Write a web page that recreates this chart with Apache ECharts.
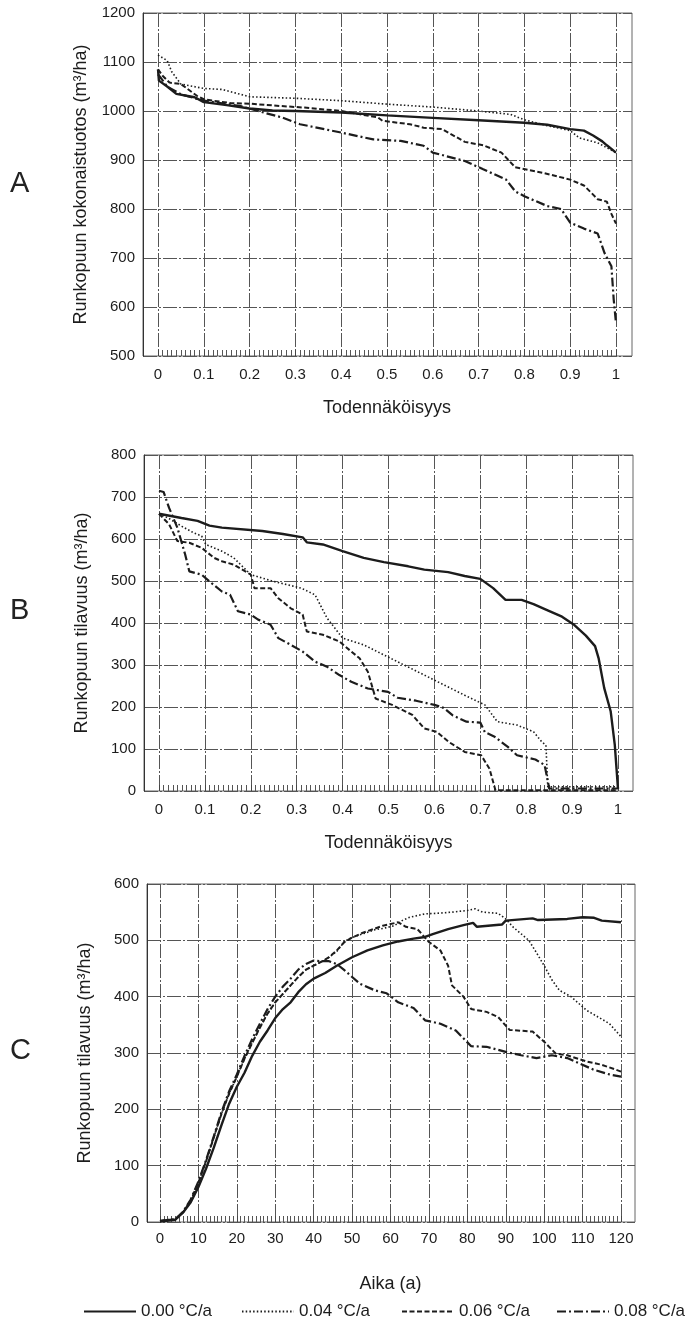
<!DOCTYPE html>
<html><head><meta charset="utf-8">
<script src="https://cdn.jsdelivr.net/npm/echarts@6/dist/echarts.min.js"></script>
<style>html,body{margin:0;padding:0;background:#fff}#c{width:694px;height:1324px}</style>
</head><body><div id="c"></div>
<script>
// ---------- DATA ----------
const seriesNames = ['0.00 °C/a', '0.04 °C/a', '0.06 °C/a', '0.08 °C/a'];
const panelLetters = ['A', 'B', 'C'];
const probTicks = [0, 0.1, 0.2, 0.3, 0.4, 0.5, 0.6, 0.7, 0.8, 0.9, 1];
const ageTicks = [0, 10, 20, 30, 40, 50, 60, 70, 80, 90, 100, 110, 120];

// Panel A: Runkopuun kokonaistuotos vs Todennäköisyys
const a000 = [[0,1085],[0.002,1062],[0.02,1050],[0.04,1035],[0.08,1028],[0.1,1018],[0.15,1012],[0.2,1005],[0.25,1001],[0.3,1000],[0.4,997],[0.5,991],[0.6,986],[0.7,981],[0.8,976],[0.85,972],[0.9,963],[0.93,960],[0.95,950],[0.97,938],[0.98,930],[1,915]];
const a004 = [[0,1114],[0.02,1103],[0.03,1080],[0.05,1055],[0.1,1046],[0.14,1044],[0.18,1034],[0.2,1029],[0.3,1026],[0.4,1021],[0.5,1014],[0.6,1008],[0.7,1000],[0.77,993],[0.8,982],[0.85,970],[0.9,960],[0.92,945],[0.96,935],[1,915]];
const a006 = [[0,1085],[0.01,1072],[0.025,1058],[0.05,1055],[0.085,1031],[0.1,1024],[0.12,1021],[0.16,1016],[0.2,1015],[0.27,1010],[0.32,1007],[0.4,1000],[0.48,987],[0.49,980],[0.55,973],[0.58,966],[0.62,963],[0.67,937],[0.71,930],[0.75,915],[0.78,885],[0.84,874],[0.9,860],[0.93,848],[0.96,820],[0.98,815],[0.99,790],[1,770]];
const a008 = [[0,1075],[0.02,1050],[0.05,1034],[0.1,1021],[0.18,1010],[0.23,997],[0.27,987],[0.31,973],[0.4,956],[0.47,942],[0.53,939],[0.58,929],[0.6,915],[0.67,898],[0.71,881],[0.76,860],[0.78,836],[0.8,826],[0.85,806],[0.88,800],[0.9,772],[0.93,760],[0.96,750],[0.975,710],[0.99,683],[0.995,615],[1,567]];

// Panel B: Runkopuun tilavuus vs Todennäköisyys
const b000 = [[0,660],[0.049,650],[0.084,643],[0.11,632],[0.137,627],[0.225,619],[0.27,612],[0.313,604],[0.322,592],[0.357,587],[0.4,571],[0.446,555],[0.49,545],[0.543,535],[0.578,527],[0.63,521],[0.666,512],[0.7,505],[0.728,483],[0.755,455],[0.79,455],[0.816,445],[0.843,432],[0.878,415],[0.905,395],[0.93,370],[0.95,345],[0.958,315],[0.97,245],[0.984,190],[0.993,110],[1,5]];
const b004 = [[0,660],[0.02,650],[0.05,630],[0.075,615],[0.093,607],[0.102,587],[0.137,571],[0.163,555],[0.2,515],[0.25,499],[0.31,483],[0.34,467],[0.366,412],[0.4,364],[0.446,348],[0.49,324],[0.534,300],[0.578,276],[0.622,252],[0.666,228],[0.71,205],[0.737,165],[0.78,157],[0.816,141],[0.834,117],[0.843,109],[0.847,10],[1,10]];
const b006 = [[0,660],[0.022,635],[0.04,595],[0.066,591],[0.093,579],[0.12,555],[0.137,547],[0.163,539],[0.2,515],[0.208,483],[0.243,483],[0.26,459],[0.287,435],[0.313,420],[0.322,380],[0.357,372],[0.393,356],[0.419,332],[0.437,316],[0.455,284],[0.472,220],[0.508,205],[0.552,181],[0.578,149],[0.605,141],[0.631,117],[0.666,93],[0.702,85],[0.72,53],[0.733,2],[1,2]];
const b008 = [[0,715],[0.01,712],[0.022,674],[0.04,627],[0.057,563],[0.066,523],[0.093,515],[0.11,499],[0.137,475],[0.155,467],[0.172,428],[0.2,420],[0.216,408],[0.243,396],[0.26,364],[0.287,348],[0.313,332],[0.34,308],[0.366,296],[0.393,276],[0.419,260],[0.455,244],[0.499,236],[0.52,222],[0.56,215],[0.6,205],[0.62,198],[0.64,180],[0.67,165],[0.7,163],[0.71,140],[0.73,130],[0.76,105],[0.78,85],[0.82,75],[0.84,62],[0.846,30],[0.85,6],[1,6]];

// Panel C: Runkopuun tilavuus vs Aika
const c000 = [[0,1],[4,4],[6,17],[8,35],[10,62],[12,95],[14,132],[16,172],[18,210],[20,240],[22,265],[24,295],[26,320],[28,340],[30,362],[32,378],[34,390],[36,408],[38,422],[40,432],[43,442],[46,455],[50,470],[54,482],[58,491],[62,498],[66,503],[69,506],[71,511],[75,520],[79,527],[81.5,531],[82.5,524],[89,528],[90,535],[97,539],[98.4,536],[106,538],[110,541],[113,540],[115,535],[120,532]];
const c004 = [[0,2],[4,5],[6,17],[8,38],[10,70],[12,108],[14,150],[16,192],[18,228],[20,258],[22,290],[24,318],[26,345],[28,370],[30,390],[32,405],[34,420],[36,435],[38,448],[40,455],[42,462],[44,470],[46,480],[48,498],[50,505],[53,512],[56,519],[58,521],[61,526],[63,535],[65,541],[69,547],[72,548],[76,550],[80,553],[82,556],[84,550],[88,548],[90,538],[92,523],[96,500],[98,478],[100,455],[102,430],[104,411],[107,400],[111,376],[114,364],[117,352],[120,329]];
const c006 = [[0,2],[4,5],[6,17],[8,38],[10,70],[12,108],[14,150],[16,192],[18,228],[20,258],[22,290],[24,318],[26,345],[28,370],[30,390],[32,405],[34,420],[36,435],[38,448],[40,455],[42,462],[44,470],[46,482],[48,497],[50,505],[53,514],[56,521],[58,526],[62,532],[64,524],[67,520],[70,497],[73,482],[75,455],[76,420],[79,400],[81,378],[85,373],[88,364],[91,341],[97,338],[100,320],[103,299],[106,296],[111,285],[115,279],[118,272],[120,267]];
const c008 = [[0,2],[4,5],[6,18],[8,40],[10,72],[12,110],[14,152],[16,195],[18,232],[20,262],[22,295],[24,325],[26,352],[28,378],[30,400],[32,418],[34,432],[36,448],[38,458],[40,464],[42,463],[44,463],[46,458],[48,447],[52,423],[56,411],[59,406],[62,390],[66,380],[69,358],[73,352],[77,340],[81,312],[85,311],[90,302],[94,296],[98,291],[102,296],[106,291],[109,282],[113,270],[117,262],[120,258]];

// ---------- STYLE / LAYOUT ----------
const FONT = '"Liberation Sans", Arial, Helvetica, sans-serif';
const INK = '#1c1c1c';
const GRIDC = '#555';
const lineStyles = [
  {width: 2.4, type: 'solid'},
  {width: 1.6, type: [1.5, 2.2]},
  {width: 2, type: [5, 2.5]},
  {width: 2.2, type: [9, 3, 2, 3]}
];

const panels = [
  {frame:{left:143, top:13, width:489, height:343}, data:{left:158, width:458},
   yMin:500, yMax:1200, xMin:0, xMax:1, xInt:0.1, yName:'Runkopuun kokonaistuotos (m³/ha)', xName:'Todennäköisyys',
   series:[a000,a004,a006,a008], letterY:185, labelMargin:11, nameGap:43},
  {frame:{left:144, top:455, width:489, height:336}, data:{left:159, width:459},
   yMin:0, yMax:800, xMin:0, xMax:1, xInt:0.1, yName:'Runkopuun tilavuus (m³/ha)', xName:'Todennäköisyys',
   series:[b000,b004,b006,b008], letterY:612, labelMargin:11, nameGap:43},
  {frame:{left:147, top:884, width:488, height:338}, data:{left:160, width:461},
   yMin:0, yMax:600, xMin:0, xMax:120, xInt:10, yName:'Runkopuun tilavuus (m³/ha)', xName:'Aika (a)',
   series:[c000,c004,c006,c008], letterY:1052, labelMargin:9, nameGap:53}
];

const grid = [], xAxis = [], yAxis = [], series = [], graphic = [];
panels.forEach((p, i) => {
  const fi = grid.length;
  grid.push({left:p.frame.left, top:p.frame.top, width:p.frame.width, height:p.frame.height,
    show:true, borderColor:'#666', borderWidth:1, backgroundColor:'transparent'});
  grid.push({left:p.data.left, top:p.frame.top, width:p.data.width, height:p.frame.height, show:false});
  const di = fi + 1;
  // frame axes
  xAxis.push({gridIndex:fi, type:'value', min:0, max:1, show:false});
  yAxis.push({gridIndex:fi, type:'value', min:p.yMin, max:p.yMax, interval:100,
    name:p.yName, nameLocation:'middle', nameGap:53,
    nameTextStyle:{fontFamily:FONT, fontSize:18, color:INK},
    axisLine:{show:true, lineStyle:{color:'#333', width:1}},
    axisTick:{show:false},
    axisLabel:{fontFamily:FONT, fontSize:15, color:INK, margin:8, formatter: v => String(v)},
    splitLine:{show:true, lineStyle:{color:GRIDC, width:1, type:[14,2,2,2]}}});
  // data axes
  xAxis.push({gridIndex:di, type:'value', min:p.xMin, max:p.xMax, interval:p.xInt,
    name:p.xName, nameLocation:'middle', nameGap:p.nameGap,
    nameTextStyle:{fontFamily:FONT, fontSize:18, color:INK},
    axisLine:{show:false},
    axisTick:{show:true, inside:true, length:6, lineStyle:{color:'#444'}},
    minorTick:{show:true, splitNumber:10, length:6, lineStyle:{color:'#555', width:1}},
    axisLabel:{fontFamily:FONT, fontSize:15, color:INK, margin:p.labelMargin, formatter: v => String(v)},
    splitLine:{show:true, lineStyle:{color:GRIDC, width:1, type:[14,2,2,2]}}});
  yAxis.push({gridIndex:di, type:'value', min:p.yMin, max:p.yMax, show:false, splitLine:{show:false}});
  p.series.forEach((d, k) => {
    series.push({type:'line', name:seriesNames[k], xAxisIndex:di, yAxisIndex:di, data:d,
      symbol:'none', showSymbol:false, z:3+k,
      lineStyle:Object.assign({color:INK}, lineStyles[k]), itemStyle:{color:INK}});
  });
  graphic.push({type:'text', left:10, top:p.letterY - 16,
    style:{text:panelLetters[i], fontFamily:FONT, fontSize:29, fill:'#222'}});
});

const legendLefts = [78, 236, 396, 551];
const legend = seriesNames.map((n, k) => ({
  data:[n], left:legendLefts[k], top:1298, itemWidth:52, itemHeight:12,
  itemStyle:{opacity:0},
  textStyle:{fontFamily:FONT, fontSize:17, color:INK}, selectedMode:false
}));

const chart = echarts.init(document.getElementById('c'), null, {renderer:'canvas'});
chart.setOption({animation:false, backgroundColor:'#fff', grid, xAxis, yAxis, series, legend, graphic});
</script></body></html>
